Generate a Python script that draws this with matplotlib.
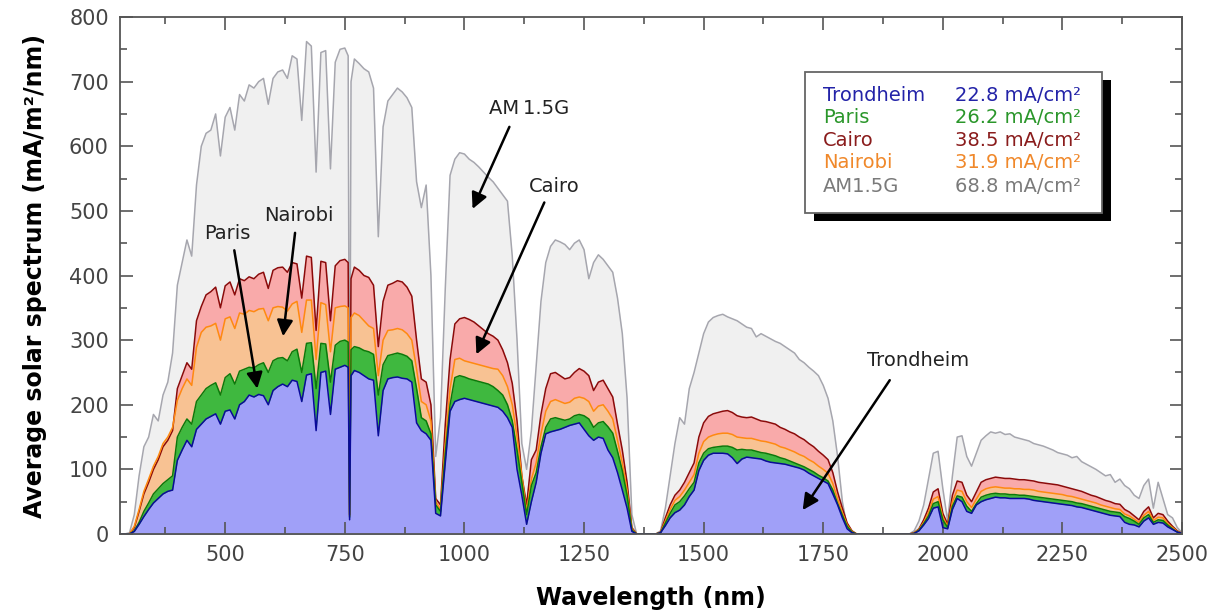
import matplotlib
matplotlib.use('Agg')
import matplotlib.pyplot as plt
from matplotlib.patches import Rectangle
from matplotlib.ticker import MultipleLocator

# wavelength grid (nm), 10 nm steps plus two extra points round the O2 line
wl = [280, 290, 300, 310, 320, 330, 340, 350, 360, 370,
      380, 390, 400, 410, 420, 430, 440, 450, 460, 470,
      480, 490, 500, 510, 520, 530, 540, 550, 560, 570,
      580, 590, 600, 610, 620, 630, 640, 650, 660, 670,
      680, 690, 700, 710, 720, 730, 740, 750, 757, 760, 763, 770,
      780, 790, 800, 810, 820, 830, 840, 850, 860, 870,
      880, 890, 900, 910, 920, 930, 940, 950, 960, 970,
      980, 990, 1000, 1010, 1020, 1030, 1040, 1050, 1060, 1070,
      1080, 1090, 1100, 1110, 1120, 1130, 1140, 1150, 1160, 1170,
      1180, 1190, 1200, 1210, 1220, 1230, 1240, 1250, 1260, 1270,
      1280, 1290, 1300, 1310, 1320, 1330, 1340, 1350, 1360, 1370,
      1380, 1390, 1400, 1410, 1420, 1430, 1440, 1450, 1460, 1470,
      1480, 1490, 1500, 1510, 1520, 1530, 1540, 1550, 1560, 1570,
      1580, 1590, 1600, 1610, 1620, 1630, 1640, 1650, 1660, 1670,
      1680, 1690, 1700, 1710, 1720, 1730, 1740, 1750, 1760, 1770,
      1780, 1790, 1800, 1810, 1820, 1830, 1840, 1850, 1860, 1870,
      1880, 1890, 1900, 1910, 1920, 1930, 1940, 1950, 1960, 1970,
      1980, 1990, 2000, 2010, 2020, 2030, 2040, 2050, 2060, 2070,
      2080, 2090, 2100, 2110, 2120, 2130, 2140, 2150, 2160, 2170,
      2180, 2190, 2200, 2210, 2220, 2230, 2240, 2250, 2260, 2270,
      2280, 2290, 2300, 2310, 2320, 2330, 2340, 2350, 2360, 2370,
      2380, 2390, 2400, 2410, 2420, 2430, 2440, 2450, 2460, 2470,
      2480, 2490, 2500]

am15g = [0, 0, 2, 30, 90, 135, 150, 185, 175, 215,
         235, 280, 385, 420, 455, 430, 540, 600, 620, 625,
         650, 585, 645, 660, 625, 680, 670, 695, 690, 700,
         705, 665, 705, 715, 718, 705, 740, 735, 640, 762,
         755, 560, 745, 748, 565, 730, 750, 752, 740, 35, 700, 735,
         728, 720, 715, 690, 460, 630, 670, 680, 690, 684,
         675, 660, 545, 505, 540, 400, 120, 180, 380, 555,
         580, 590, 588, 580, 575, 568, 560, 552, 545, 535,
         525, 515, 430, 300, 140, 100, 160, 260, 360, 420,
         445, 455, 452, 448, 440, 450, 455, 440, 395, 420,
         432, 425, 415, 405, 365, 310, 210, 30, 0, 0,
         0, 0, 0, 5, 40, 90, 140, 180, 170, 225,
         250, 280, 310, 328, 335, 338, 340, 336, 333, 330,
         325, 320, 318, 305, 310, 306, 302, 298, 295, 290,
         285, 280, 270, 265, 258, 252, 245, 230, 210, 175,
         120, 50, 10, 0, 0, 0, 0, 0, 0, 0,
         0, 0, 0, 0, 0, 0, 5, 20, 45, 85,
         125, 128, 70, 20, 90, 150, 152, 120, 105, 125,
         145, 152, 158, 156, 158, 154, 155, 150, 148, 146,
         144, 140, 138, 136, 133, 130, 126, 124, 122, 118,
         120, 112, 108, 104, 100, 95, 90, 92, 80, 85,
         75, 70, 60, 55, 75, 85, 40, 80, 55, 30,
         25, 10, 2]

cairo = [0, 0, 0, 10, 35, 62, 80, 100, 115, 135,
         145, 160, 225, 245, 265, 255, 330, 352, 370, 375,
         382, 350, 384, 390, 370, 395, 392, 398, 395, 402,
         405, 380, 408, 412, 413, 405, 420, 418, 365, 430,
         428, 315, 422, 420, 330, 415, 423, 425, 420, 30, 395, 413,
         408, 400, 397, 385, 290, 360, 385, 388, 392, 390,
         382, 368, 300, 240, 235, 200, 55, 45, 170, 270,
         325, 333, 335, 332, 328, 322, 316, 310, 306, 300,
         285, 265, 233, 175, 90, 45, 115, 130, 185, 225,
         248, 250, 245, 240, 242, 250, 256, 252, 245, 222,
         235, 238, 225, 212, 170, 130, 80, 10, 0, 0,
         0, 0, 0, 3, 25, 45, 60, 68, 80, 95,
         110, 150, 172, 182, 186, 188, 190, 191, 188, 183,
         181, 180, 181, 178, 175, 174, 172, 170, 165, 162,
         158, 155, 150, 146, 140, 135, 128, 122, 115, 95,
         65, 40, 17, 5, 0, 0, 0, 0, 0, 0,
         0, 0, 0, 0, 0, 0, 2, 8, 22, 40,
         65, 70, 32, 15, 60, 82, 80, 60, 50, 65,
         80, 84, 86, 88, 87, 86, 86, 85, 84, 84,
         83, 82, 80, 79, 78, 77, 76, 74, 72, 70,
         68, 66, 63, 60, 58, 55, 52, 50, 47, 46,
         38, 34, 28, 22, 35, 42, 25, 32, 30, 20,
         12, 5, 1]

nairobi = [0, 0, 0, 12, 38, 66, 85, 105, 120, 140,
           150, 165, 207, 225, 240, 230, 289, 312, 320, 322,
           326, 300, 333, 336, 318, 342, 340, 346, 344, 348,
           349, 330, 350, 352, 351, 345, 356, 360, 312, 362,
           362, 270, 358, 355, 282, 350, 352, 353, 350, 28, 335, 342,
           338, 330, 322, 318, 245, 300, 315, 316, 318, 316,
           310, 300, 255, 205, 200, 175, 50, 38, 140, 225,
           270, 272, 268, 266, 264, 262, 260, 258, 256, 255,
           245, 228, 200, 150, 90, 35, 85, 110, 155, 190,
           205, 208, 205, 202, 204, 210, 212, 210, 205, 190,
           198, 200, 190, 178, 145, 110, 68, 8, 0, 0,
           0, 0, 0, 3, 20, 38, 52, 58, 68, 80,
           92, 125, 143, 150, 153, 155, 156, 156, 154, 150,
           149, 148, 148, 146, 144, 143, 141, 139, 135, 133,
           130, 127, 123, 120, 115, 111, 105, 100, 94, 78,
           54, 33, 14, 4, 0, 0, 0, 0, 0, 0,
           0, 0, 0, 0, 0, 0, 2, 7, 18, 33,
           54, 58, 26, 12, 50, 68, 66, 50, 41, 54,
           66, 70, 72, 73, 72, 71, 71, 70, 70, 69,
           69, 68, 66, 65, 64, 63, 62, 61, 59, 58,
           56, 54, 52, 50, 48, 45, 43, 41, 39, 38,
           31, 28, 23, 18, 29, 35, 21, 26, 25, 16,
           10, 4, 1]

paris = [0, 0, 0, 5, 18, 35, 48, 62, 70, 78,
         84, 90, 150, 165, 178, 170, 205, 215, 225, 230,
         234, 215, 242, 248, 232, 252, 255, 258, 257, 262,
         265, 250, 268, 272, 273, 268, 282, 286, 250, 295,
         296, 225, 295, 294, 235, 292, 298, 300, 297, 26, 285, 290,
         288, 284, 282, 278, 215, 262, 276, 278, 280, 278,
         275, 268, 225, 180, 175, 155, 45, 35, 125, 200,
         242, 245, 243, 240, 238, 236, 234, 232, 228, 222,
         215, 200, 175, 130, 80, 30, 75, 95, 135, 165,
         178, 180, 178, 176, 178, 183, 185, 183, 178, 165,
         172, 174, 166, 156, 128, 98, 60, 6, 0, 0,
         0, 0, 0, 2, 17, 32, 45, 50, 59, 70,
         80, 110, 125, 132, 134, 135, 136, 136, 134, 130,
         131, 130, 130, 128, 126, 125, 123, 121, 118, 116,
         113, 110, 107, 104, 100, 96, 91, 87, 82, 68,
         47, 29, 12, 3, 0, 0, 0, 0, 0, 0,
         0, 0, 0, 0, 0, 0, 1, 6, 16, 28,
         47, 50, 22, 10, 43, 59, 57, 43, 35, 47,
         57, 60, 62, 63, 62, 62, 61, 61, 60, 60,
         59, 58, 57, 56, 55, 54, 53, 52, 51, 50,
         48, 47, 45, 43, 41, 39, 37, 35, 34, 33,
         27, 24, 20, 15, 25, 30, 18, 22, 21, 14,
         8, 3, 1]

trondheim = [0, 0, 0, 4, 15, 27, 38, 48, 55, 62,
             66, 68, 114, 130, 145, 135, 162, 170, 178, 182,
             186, 170, 190, 192, 178, 200, 205, 215, 212, 216,
             214, 200, 222, 228, 232, 228, 238, 236, 205, 246,
             248, 160, 250, 252, 185, 255, 258, 261, 258, 22, 245, 253,
             250, 245, 240, 238, 152, 222, 240, 242, 243, 241,
             240, 235, 172, 160, 155, 145, 32, 28, 110, 190,
             205, 208, 210, 208, 206, 204, 202, 200, 198, 196,
             190, 180, 165, 100, 60, 15, 50, 80, 125, 155,
             158, 160, 162, 165, 168, 170, 172, 162, 152, 145,
             150, 148, 130, 118, 95, 68, 40, 4, 0, 0,
             0, 0, 0, 2, 13, 25, 33, 37, 45, 58,
             68, 98, 114, 122, 125, 125, 125, 124, 118, 109,
             116, 119, 118, 117, 116, 113, 111, 110, 109, 108,
             106, 104, 102, 99, 94, 90, 86, 82, 78, 62,
             45, 25, 8, 2, 0, 0, 0, 0, 0, 0,
             0, 0, 0, 0, 0, 0, 1, 5, 14, 24,
             40, 42, 10, 8, 38, 55, 50, 35, 32, 45,
             50, 53, 55, 57, 56, 56, 55, 55, 55, 55,
             54, 52, 51, 50, 49, 48, 47, 46, 45, 44,
             42, 41, 39, 37, 35, 33, 31, 29, 28, 27,
             18, 15, 14, 11, 20, 25, 15, 18, 17, 11,
             7, 3, 1]

names = ['Trondheim', 'Paris', 'Cairo', 'Nairobi', 'AM1.5G']
currents = ['22.8', '26.2', '38.5', '31.9', '68.8']
text_colors = ['#2323a8', '#2a962a', '#8a1c1c', '#f0882a', '#7a7a7a']

plt.rcParams['font.family'] = ['DejaVu Sans']

fig = plt.figure(figsize=(12.19, 6.16), dpi=100)
ax = fig.add_axes([0.0984, 0.1331, 0.8713, 0.8393])

layers = [
    (am15g, '#f0f0f0', '#a6a6ae'),
    (cairo, '#f9aaaa', '#8b0a0a'),
    (nairobi, '#f8c293', '#ff8a10'),
    (paris, '#3fb83f', '#0b7a0b'),
    (trondheim, '#a0a0f8', '#0a0a9a'),
]
for vals, fc, lc in layers:
    ax.fill_between(wl, 0, vals, color=fc, lw=0)
    ax.plot(wl, vals, color=lc, lw=1.1)

ax.set_xlim(280, 2500)
ax.set_ylim(0, 800)
ax.xaxis.set_major_locator(MultipleLocator(250))
ax.xaxis.set_minor_locator(MultipleLocator(125))
ax.yaxis.set_major_locator(MultipleLocator(100))
ax.yaxis.set_minor_locator(MultipleLocator(50))
ax.tick_params(which='both', direction='in', top=True, right=True,
               color='#555555', width=1.2)
ax.tick_params(which='major', length=9, labelsize=15, labelcolor='#444444', pad=8)
ax.tick_params(which='minor', length=5)
for sp in ax.spines.values():
    sp.set_color('#555555')
    sp.set_linewidth(1.3)

ax.set_xlabel('Wavelength (nm)', fontsize=17, fontweight='bold', labelpad=15)
ax.set_ylabel('Average solar spectrum (mA/m\u00b2/nm)', fontsize=17,
              fontweight='bold', labelpad=16)

# legend box with shadow
ax.add_patch(Rectangle((0.653, 0.606), 0.2797, 0.2725, transform=ax.transAxes,
                       facecolor='black', edgecolor='none', zorder=5))
ax.add_patch(Rectangle((0.645, 0.621), 0.2797, 0.2725, transform=ax.transAxes,
                       facecolor='white', edgecolor='#666666', lw=1.3, zorder=6))
rows_y = [0.849, 0.805, 0.762, 0.718, 0.673]
for name, cur, col, yy in zip(names, currents, text_colors, rows_y):
    ax.text(0.662, yy, name, transform=ax.transAxes, color=col,
            fontsize=14, va='center', zorder=7)
    ax.text(0.786, yy, cur + ' mA/cm\u00b2', transform=ax.transAxes, color=col,
            fontsize=14, va='center', zorder=7)

# annotations
notes = [
    ('Paris', (504, 465), (519, 439), (567, 225)),
    ('Nairobi', (655, 493), (646, 466), (621, 306)),
    ('AM\u20091.5G', (1136, 659), (1094, 630), (1017, 503)),
    ('Cairo', (1188, 537), (1167, 513), (1025, 278)),
    ('Trondheim', (1948, 269), (1889, 238), (1707, 37)),
]
for label, txy, start, end in notes:
    ax.text(txy[0], txy[1], label, fontsize=14, ha='center', va='center',
            color='#222222', zorder=8)
    ax.annotate('', xy=end, xytext=start,
                arrowprops=dict(arrowstyle='-|>', color='black', lw=1.8,
                                mutation_scale=24, shrinkA=0, shrinkB=0),
                zorder=8)

fig.savefig('out.png', dpi=100)
